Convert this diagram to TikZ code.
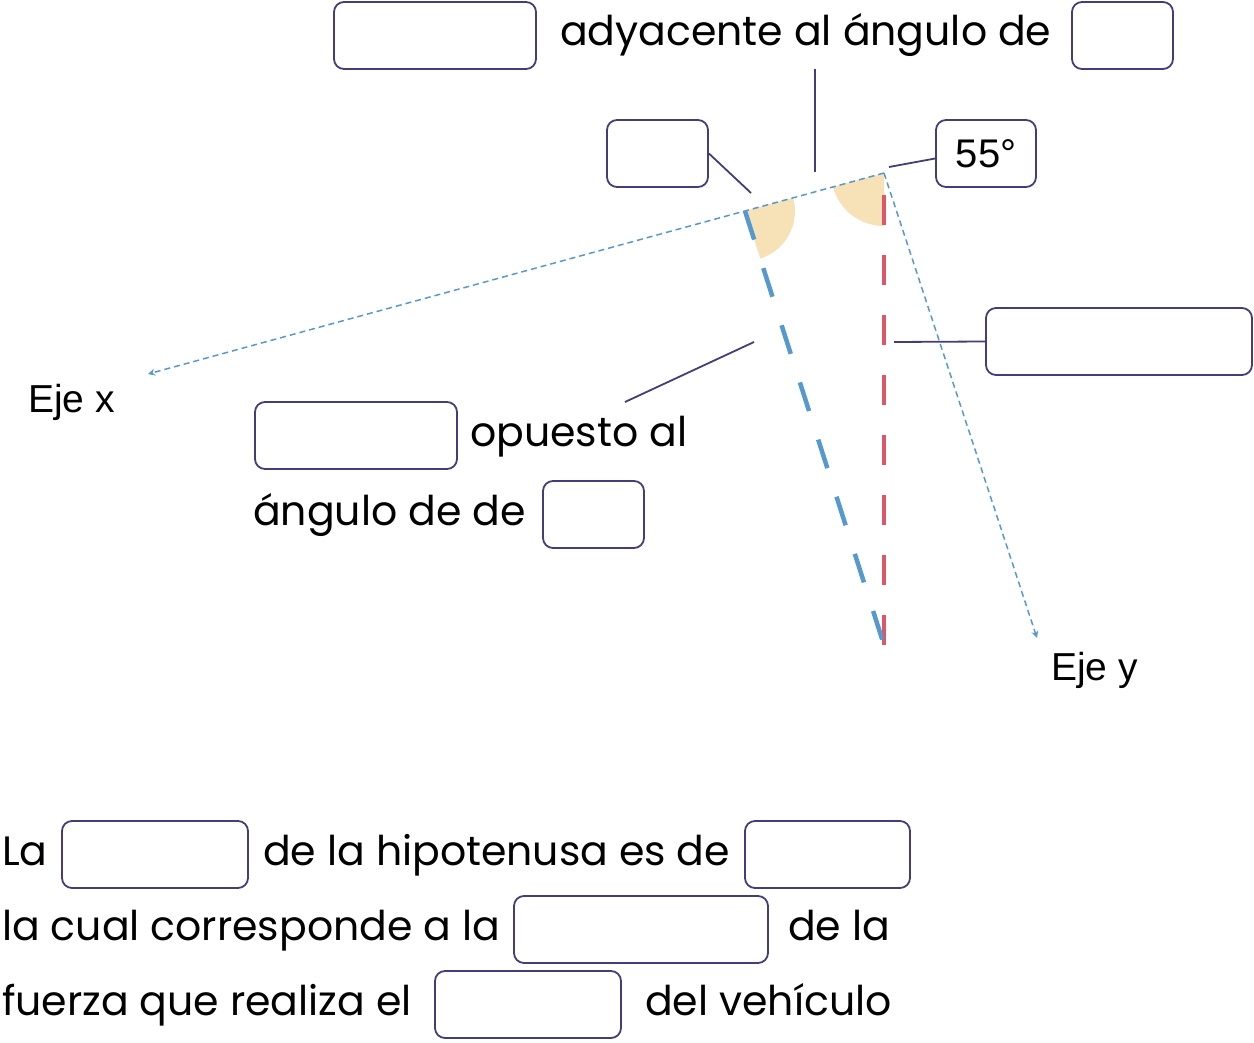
\documentclass[tikz,border=0pt]{standalone}
\usepackage{fontspec}
\setmainfont{Poppins}
\newfontfamily\arialf{Liberation Sans}
\usetikzlibrary{arrows.meta}
\definecolor{boxc}{HTML}{463C7A}
\definecolor{axc}{HTML}{5599CF}
\definecolor{redc}{HTML}{DC5868}
\definecolor{wedc}{HTML}{F7E1B6}
\tikzset{
  blank/.style={draw=boxc, line width=1.8pt, rounded corners=10pt, inner sep=0pt},
  lbl/.style={inner sep=0pt, anchor=base west, font=\fontsize{41}{46}\selectfont},
  albl/.style={inner sep=0pt, anchor=base west, font=\arialf\fontsize{39}{44}\selectfont},
  conn/.style={draw=boxc, line width=1.8pt},
  axis/.style={draw=axc, line width=1.5pt, dash pattern=on 6pt off 4pt, -{Stealth[length=7pt,width=7pt]}},
  thickdash/.style={line width=4.5pt, dash pattern=on 30pt off 30pt},
  wedge/.style={fill=wedc},
}
\begin{document}
\begin{tikzpicture}[x=1pt,y=-1pt]
\useasboundingbox (0,0) rectangle (1254,1043);
% key points
\coordinate (V) at (884,173);
\coordinate (P) at (745,211);
\coordinate (xend) at (148,374);
\coordinate (yend) at (1037,638);
\coordinate (R0) at (884,195);
\coordinate (R1) at (884,645);
\coordinate (B1) at (884,645);
% wedges
\fill[wedge] (V) -- ++(90:53) arc (90:164.7:53) -- cycle;
\fill[wedge] (P) -- ++(-15.3:50) arc (-15.3:72.2:50) -- cycle;
% axes
\draw[axis] (V) -- (xend);
\draw[axis] (V) -- (yend);
% thick dashed legs
\draw[thickdash, draw=redc] (R0) -- (R1);
\draw[thickdash, draw=axc] (P) -- (B1);
% top row
\node[blank, minimum width=202pt, minimum height=67pt] (bA) at (435,35.5) {};
\node[lbl] (tA) at (560,46) {adyacente al ángulo de};
\node[blank, minimum width=101pt, minimum height=67pt] (bB) at (1122.5,35.5) {};
\coordinate (cA0) at (815,69);
\coordinate (cA1) at (815,172);
\draw[conn] (cA0) -- (cA1);
% second row
\node[blank, minimum width=101pt, minimum height=67pt] (bC) at (657.5,153.5) {};
\coordinate (cC) at (751,193);
\draw[conn] (bC.east) -- (cC);
\node[blank, minimum width=100pt, minimum height=67pt, font=\arialf\fontsize{40}{44}\selectfont] (bD) at (986,153.5) {55°};
\coordinate (cD) at (889,167);
\draw[conn] ([yshift=-5pt]bD.west) -- (cD);
% right box
\node[blank, minimum width=266pt, minimum height=67pt] (bE) at (1119,341.5) {};
\coordinate (cE) at (894,342);
\draw[conn] (bE.west) -- (cE);
% axis labels
\node[albl] (ex) at (28,412) {Eje x};
\node[albl] (ey) at (1051,680) {Eje y};
% opuesto
\coordinate (cF0) at (754,342);
\coordinate (cF1) at (625,402);
\draw[conn] (cF0) -- (cF1);
\node[blank, minimum width=202pt, minimum height=67pt] (bF) at (356,435.5) {};
\node[lbl] (tF) at (470,446) {opuesto al};
\node[lbl] (tG) at (253,525) {ángulo de de};
\node[blank, minimum width=101pt, minimum height=67pt] (bG) at (593.5,514.5) {};
% bottom paragraph
\node[lbl] (t1a) at (2,865) {La};
\node[blank, minimum width=186pt, minimum height=67pt] (bH) at (155,854.5) {};
\node[lbl] (t1b) at (263,865) {de la hipotenusa es de};
\node[blank, minimum width=165pt, minimum height=67pt] (bI) at (827.5,854.5) {};
\node[lbl] (t2a) at (2,940) {la cual corresponde a la};
\node[blank, minimum width=254pt, minimum height=67pt] (bJ) at (641,929.5) {};
\node[lbl] (t2b) at (788,940) {de la};
\node[lbl] (t3a) at (2,1015) {fuerza que realiza el};
\node[blank, minimum width=186pt, minimum height=67pt] (bK) at (528,1004.5) {};
\node[lbl] (t3b) at (645,1015) {del vehículo};
\end{tikzpicture}
\end{document}
